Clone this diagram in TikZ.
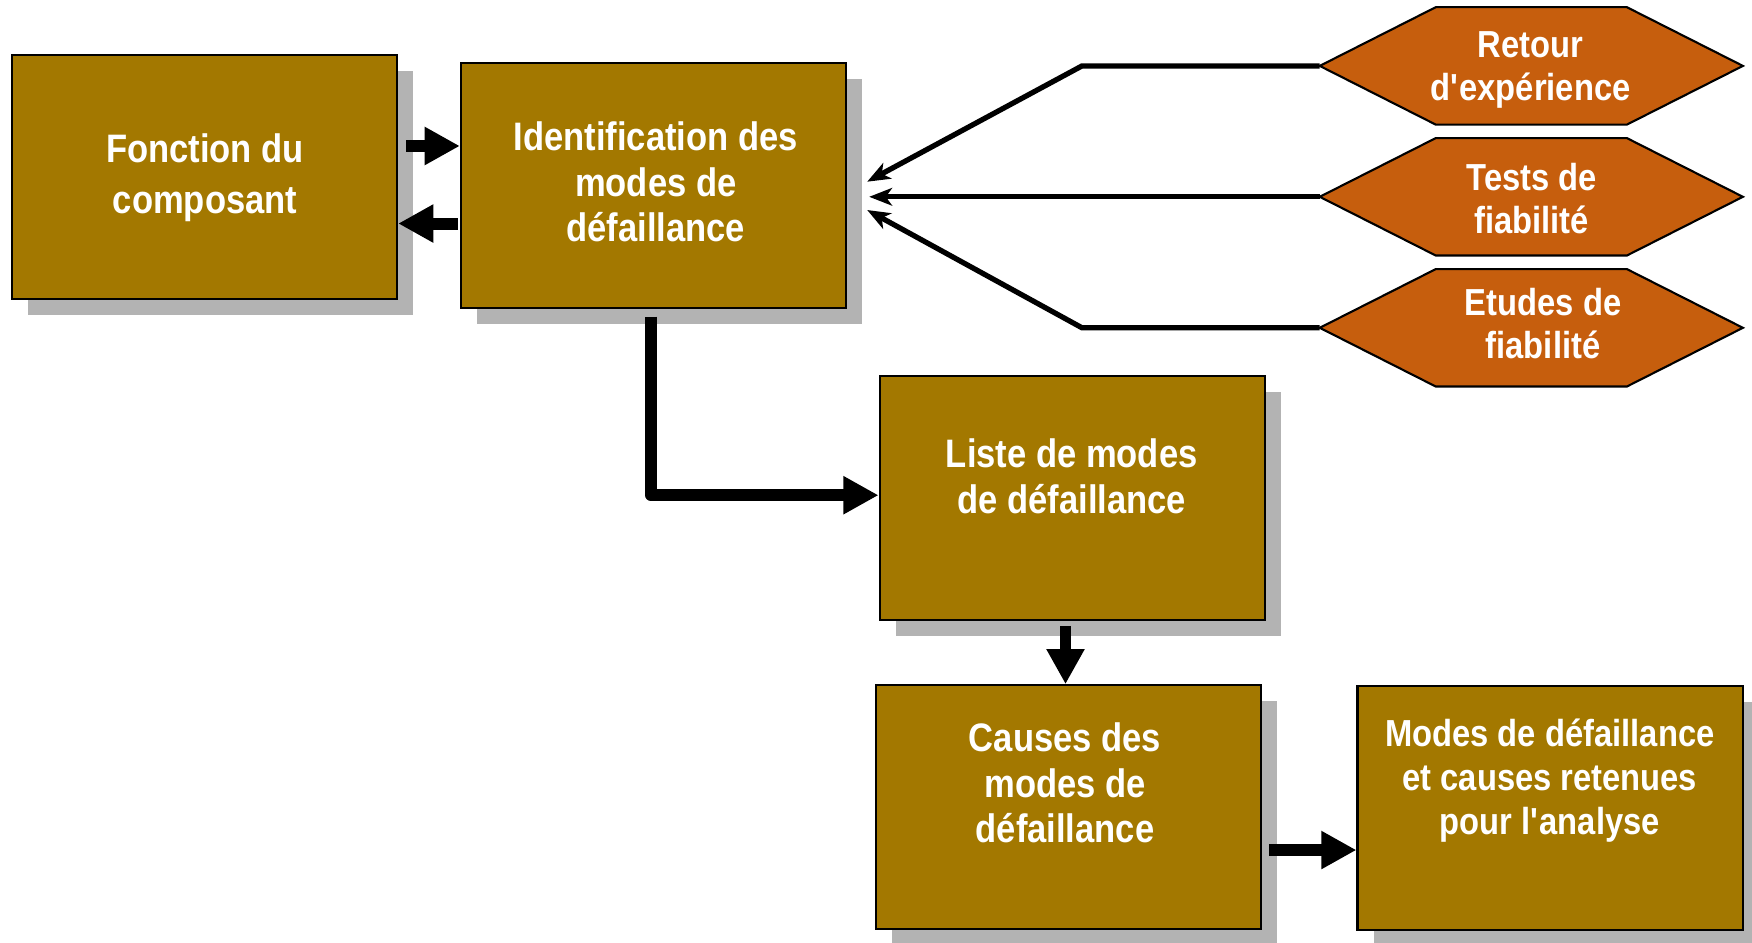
\documentclass[tikz,border=0pt]{standalone}
\usepackage{fontspec}
\setmainfont{Liberation Sans}[FakeStretch=0.87]
\usetikzlibrary{arrows.meta,shadows}
\definecolor{boxfill}{RGB}{163,120,0}
\definecolor{hexfill}{RGB}{198,94,13}
\definecolor{shadowgray}{RGB}{179,179,179}
\newcommand{\apos}{\textquotesingle}
\begin{document}
\begin{tikzpicture}[x=0.01cm,y=-0.01cm,
  box/.style={draw=black, line width=0.6pt, fill=boxfill,
    minimum width=3.85cm, minimum height=2.44cm, inner sep=0pt,
    general shadow={fill=shadowgray, shadow xshift=0.16cm, shadow yshift=-0.16cm}},
  hexframe/.style={minimum width=4.215cm, minimum height=1.16cm, inner sep=0pt},
  hexshape/.style={draw=black, line width=0.6pt, fill=hexfill},
  boxtext/.style={text=white, align=center, inner sep=0pt,
    font=\bfseries\fontsize{11.3}{13}\selectfont},
  smalltext/.style={boxtext, font=\bfseries\fontsize{10.7}{12.4}\selectfont},
  fat/.style={line width=3.4pt, line join=round,
    -{Triangle[length=10pt,width=10.2pt]}},
  feed/.style={line width=1.5pt,
    -{Stealth[length=6.5pt,width=5pt,inset=1.8pt]}}]
\useasboundingbox (0,0) rectangle (1752,942);

% process boxes
\node[box] (b1) at (204.5,177.2) {};
\node[box] (b2) at (653.5,185.5) {};
\node[box] (b3) at (1072.2,497.7) {};
\node[box] (b4) at (1068.5,807.3) {};
\node[box] (b5) at (1550.1,807.9) {};

\node[boxtext, font=\bfseries\fontsize{11.3}{14.5}\selectfont] (t1) at (205,178) {Fonction du\\composant};
\node[boxtext] (t2) at (655.7,182) {Identification des\\modes de\\défaillance};
\node[boxtext] (t3) at (1071.7,476.5) {Liste de modes\\de défaillance};
\node[boxtext] (t4) at (1065,783) {Causes des\\modes de\\défaillance};
\node[smalltext] (t5) at (1549.8,780.5) {Modes de défaillance\\et causes retenues\\pour l\apos analyse};

% input sources (hexagons)
\foreach \n/\y in {h1/65.9, h2/196.8, h3/327.8}{
  \node[hexframe] (\n) at (1531.3,\y) {};
  \draw[hexshape] (\n.west) -- ([xshift=1.16cm]\n.north west)
    -- ([xshift=-1.16cm]\n.north east) -- (\n.east)
    -- ([xshift=-1.16cm]\n.south east) -- ([xshift=1.16cm]\n.south west) -- cycle;
}
\node[smalltext] (th1) at (1530.6,69.8) {Retour\\d\apos expérience};
\node[smalltext] (th2) at (1531.6,198.5) {Tests de\\fiabilité};
\node[smalltext] (th3) at (1543,323.7) {Etudes de\\fiabilité};

% feedback connectors from the sources
\coordinate (kink) at (1082,0);
\coordinate (in1) at ([xshift=0.2cm,yshift=0.038cm]b2.east);
\coordinate (in2) at ([xshift=0.22cm]b2.east);
\coordinate (in3) at ([xshift=0.2cm,yshift=-0.245cm]b2.east);
\draw[feed] (h1.west) -- (h1.west -| kink) -- (in1);
\draw[feed] (h2.west) -- (h2.west -| in2);
\draw[feed] (h3.west) -- (h3.west -| kink) -- (in3);

% main flow
\coordinate (a12) at ([xshift=0.08cm,yshift=0.312cm]b1.east);
\draw[fat] (a12) -- (a12 -| b2.west);
\coordinate (a21) at ([xshift=-0.02cm,yshift=-0.38cm]b2.west);
\draw[fat] (a21) -- (a21 -| b1.east);
\coordinate (a23) at ([xshift=-0.025cm,yshift=-0.08cm]b2.south);
\draw[fat] (a23) |- ([yshift=0.025cm]b3.west);
\coordinate (a34) at ([xshift=-0.067cm,yshift=-0.05cm]b3.south);
\draw[fat] (a34) -- (a34 |- b4.north);
\coordinate (a45) at ([xshift=0.07cm,yshift=-0.427cm]b4.east);
\draw[fat] (a45) -- (a45 -| b5.west);
\end{tikzpicture}
\end{document}
